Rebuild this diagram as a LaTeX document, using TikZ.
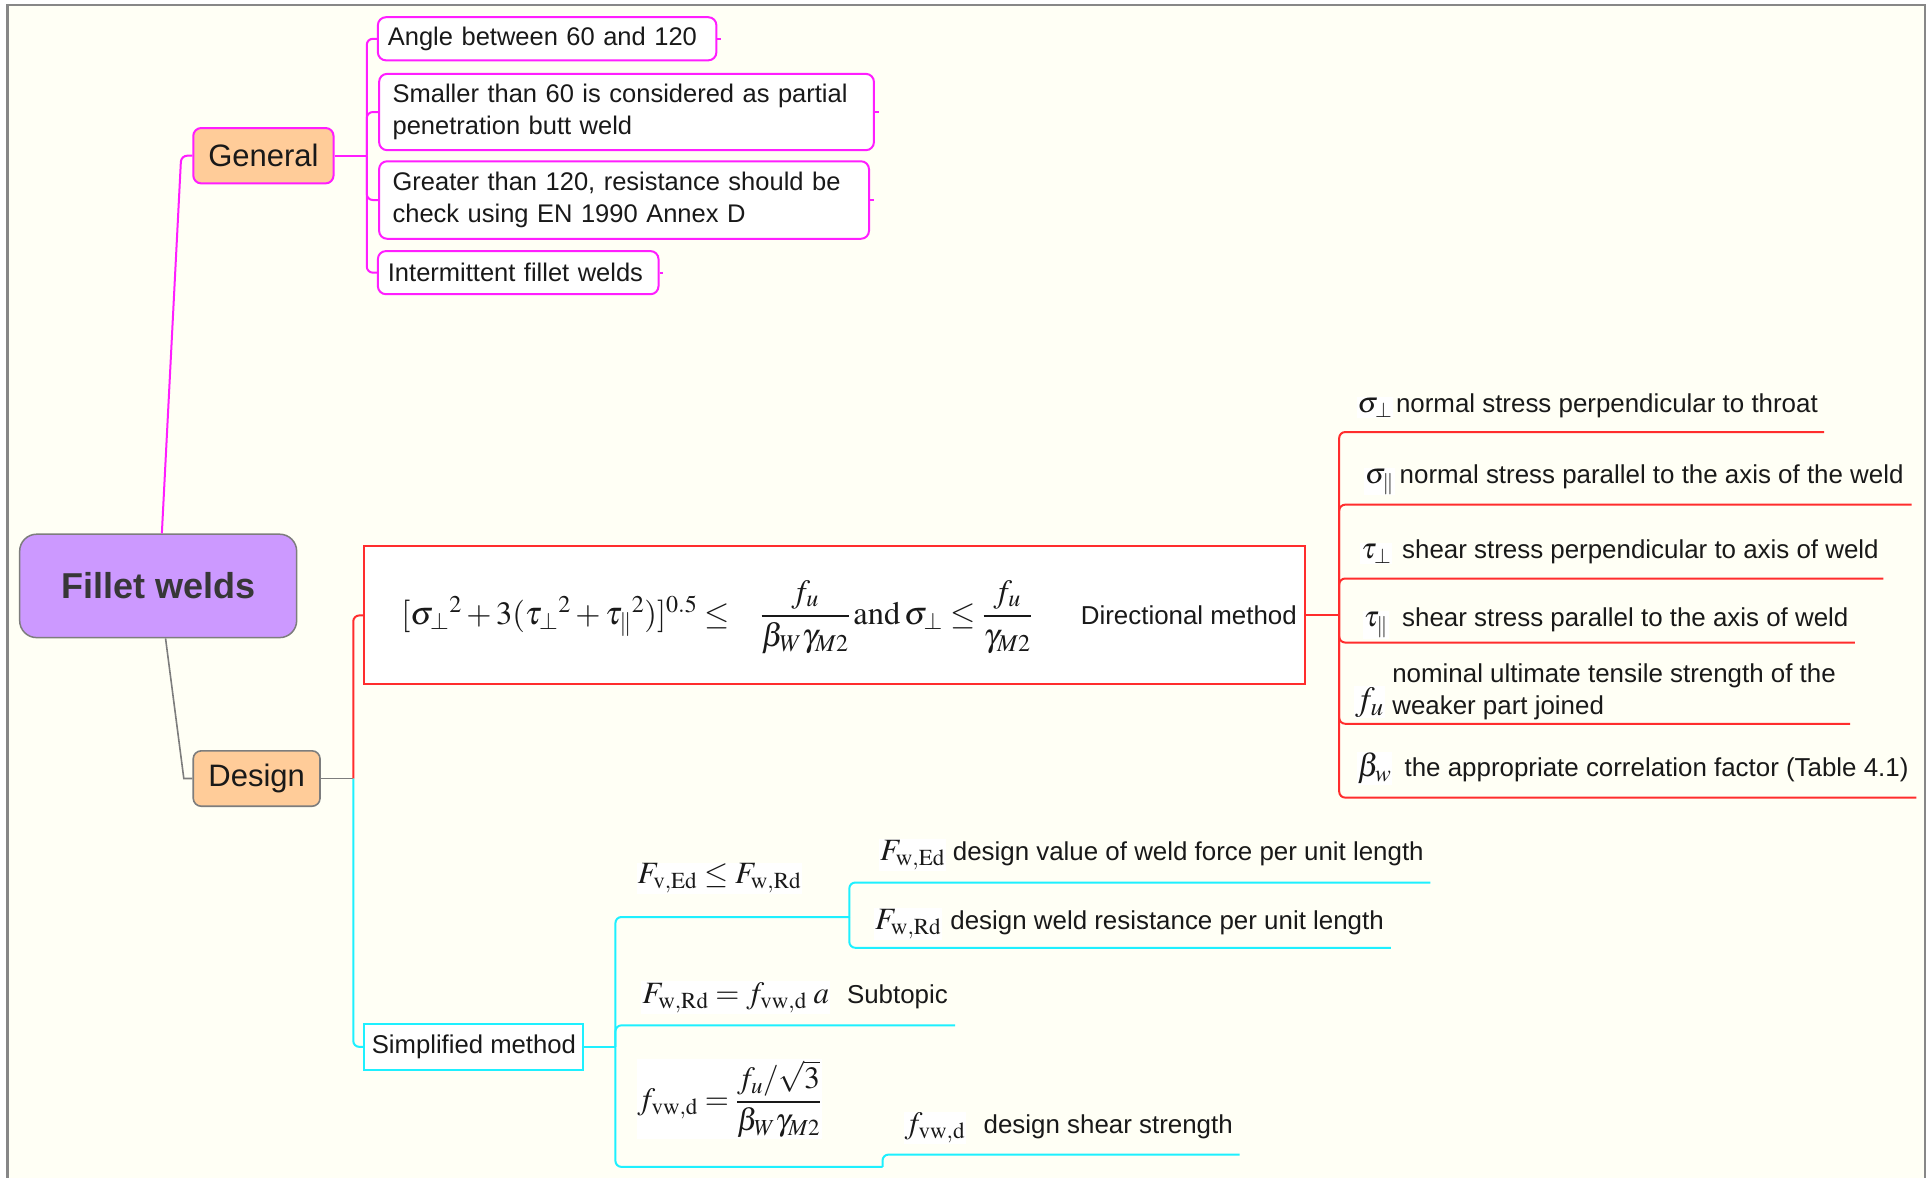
\documentclass[tikz,border=0pt]{standalone}
\usepackage{amsmath}
\usepackage{mathptmx}
\usepackage[no-math]{fontspec}
\setmainfont{Liberation Sans}
\usetikzlibrary{calc}
\definecolor{ivory}{RGB}{255,255,245}
\definecolor{magl}{RGB}{255,30,255}
\definecolor{redl}{RGB}{255,45,45}
\definecolor{cyanl}{RGB}{30,240,255}
\definecolor{grayl}{RGB}{125,125,125}
\definecolor{peach}{RGB}{255,204,153}
\definecolor{lav}{RGB}{204,153,255}
\definecolor{txt}{RGB}{25,25,25}
\definecolor{roottxt}{RGB}{55,55,55}
\definecolor{framec}{RGB}{135,135,135}
\tikzset{
  lbl/.style={font=\fontsize{25.9}{32}\selectfont, text=txt, inner sep=0pt},
  sym/.style={font=\fontsize{29}{34}\selectfont, text=txt, fill=white, inner sep=1pt},
  bigsym/.style={font=\fontsize{31}{36}\selectfont, text=txt, fill=white, inner sep=1pt},
  mline/.style={draw=magl, line width=2pt, rounded corners=6pt},
  rline/.style={draw=redl, line width=2pt, rounded corners=6pt},
  cline/.style={draw=cyanl, line width=2pt, rounded corners=6pt},
  gline/.style={draw=grayl, line width=1.6pt},
  magbox/.style={rectangle, rounded corners=8pt, draw=magl, line width=2pt, fill=white, align=left, font=\fontsize{25.5}{32}\selectfont, text=txt, inner ysep=0pt},
  topic/.style={rectangle, rounded corners=8pt, line width=2pt, fill=peach, font=\fontsize{31}{36}\selectfont, text=txt, inner sep=0pt, minimum height=55.4pt},
}
\begin{document}
\begin{tikzpicture}[x=1.2309pt, y=-1.2309pt]
\useasboundingbox (0,0) rectangle (1568,957);
\fill[white] (0,0) rectangle (1568,957);
\fill[ivory] (6,4) rectangle (1564,957);
\draw[framec, line width=2.5pt] (6,957) -- (6,4) -- (1564,4) -- (1564,957);

% root and main topics
\node[rectangle, rounded corners=17pt, draw=grayl, line width=1.5pt, fill=lav, minimum width=277pt, minimum height=103.4pt, inner sep=0pt, font=\fontsize{36}{40}\selectfont\bfseries, text=roottxt] (root) at (128.5,476) {Fillet welds};
\node[topic, draw=magl, minimum width=140.3pt] (gen) at (214,126.5) {General};
\node[topic, draw=grayl, line width=1.6pt, minimum width=126.8pt] (des) at (208.5,632.5) {Design};

% General children
\node[magbox, text width=318.5pt, inner xsep=10pt, minimum height=43.1pt] (c1) at (444.5,31.5) {Angle between 60 and 120};
\node[magbox, text width=467.8pt, inner xsep=13.5pt, minimum height=76.3pt] (c2) at (509,91) {Smaller than 60 is considered as partial\\penetration butt weld};
\node[magbox, text width=462.9pt, inner xsep=13.5pt, minimum height=77.5pt] (c3) at (507,162.5) {Greater than 120, resistance should be\\check using EN 1990 Annex D};
\node[magbox, text width=260.6pt, inner xsep=10pt, minimum height=43.1pt] (c4) at (421,221.5) {Intermittent fillet welds};

\coordinate (gj) at (298,126.5);
\draw[mline] ($(root.north)+(3,0)$) -- ($(gen.west)+(-9,0)$) -- (gen.west);
\draw[mline] (gen.east) -- (gj);
\foreach \c in {c1,c2,c3,c4} {
  \draw[mline] (gj) |- (\c.west);
  \draw[draw=magl, line width=2pt] (\c.east) -- ++(3,0);
}

% Design branch
\coordinate (dj) at (287,632.5);
\draw[gline] ($(root.south)+(6,0)$) -- ($(des.west)+(-7,0)$) -- (des.west);
\draw[gline] (des.east) -- (dj);

% Directional method
\node[rectangle, draw=redl, fill=white, line width=2pt, minimum width=940.4pt, minimum height=137.9pt] (dm) at (678,500) {};
\node[anchor=base west, inner sep=0pt, text=txt, font=\fontsize{32.5}{38}\selectfont] (fml) at (326,507)
  {$[{\sigma_\perp}^2 + 3({\tau_\perp}^2 + {\tau_\parallel}^2)]^{0.5} \leq \enskip\; \dfrac{f_u}{\beta_W\gamma_{M2}}\,\mathrm{and}\,\sigma_\perp \leq \dfrac{f_u}{\gamma_{M2}}$};
\node[lbl, anchor=west] (dmt) at (878,500) {Directional method};
\draw[rline] (dj) |- (dm.west);

\coordinate (dmj) at (1088,500);
\draw[rline] (dm.east) -- (dmj);
\coordinate (u1) at (1482,351);
\coordinate (u2) at (1553,410);
\coordinate (u3) at (1530,470);
\coordinate (u4) at (1507,522);
\coordinate (u5) at (1503,588);
\coordinate (u6) at (1557,648);
\foreach \u in {u1,u2,u3,u4,u5,u6} { \draw[rline] (dmj) |- (\u); }

\node[sym, anchor=base west] (s1) at (1102,335) {$\sigma_\perp$};
\node[lbl, anchor=base west] (t1) at (1134,335) {normal stress perpendicular to throat};
\node[sym, anchor=base west] (s2) at (1108,392.5) {$\sigma_\parallel$};
\node[lbl, anchor=base west] (t2) at (1137,392.5) {normal stress parallel to the axis of the weld};
\node[sym, anchor=base west] (s3) at (1105,453.5) {$\tau_\perp$};
\node[lbl, anchor=base west] (t3) at (1139,453.5) {shear stress perpendicular to axis of weld};
\node[sym, anchor=base west] (s4) at (1107,509) {$\tau_\parallel$};
\node[lbl, anchor=base west] (t4) at (1139,509) {shear stress parallel to the axis of weld};
\node[sym, anchor=base west, font=\fontsize{34}{38}\selectfont] (s5) at (1100,577) {$f_u$};
\node[lbl, anchor=west, align=left] (t5) at (1131,562) {nominal ultimate tensile strength of the\\weaker part joined};
\node[sym, anchor=base west, font=\fontsize{32}{36}\selectfont] (s6) at (1102,631) {$\beta_w$};
\node[lbl, anchor=base west] (t6) at (1141,631) {the appropriate correlation factor (Table 4.1)};

% Simplified method
\node[rectangle, draw=cyanl, fill=white, line width=2pt, minimum width=219.1pt, minimum height=45.5pt, inner sep=0pt, font=\fontsize{25.7}{32}\selectfont, text=txt] (sm) at (385,850.5) {Simplified method};
\draw[cline] (dj) |- (sm.west);
\coordinate (smj) at (500,850.5);
\draw[cline] (sm.east) -- (smj);

\coordinate (g1j) at (690,745);
\coordinate (u1a) at (1162,717);
\coordinate (u1b) at (1130,770);
\coordinate (u2c) at (776,833);
\coordinate (g3j) at (717,948);
\coordinate (u3a) at (1007,938);
\draw[cline] (smj) |- (g1j);
\draw[cline] (g1j) |- (u1a);
\draw[cline] (g1j) |- (u1b);
\draw[cline] (smj) |- (u2c);
\draw[cline] (smj) |- (g3j);
\draw[cline] (g3j) |- (u3a);

\node[bigsym, anchor=base west] (n1) at (517,718) {$F_{\mathrm{v,Ed}} \leq F_{\mathrm{w,Rd}}$};
\node[bigsym, anchor=base west] (n1a) at (714,699) {$F_{\mathrm{w,Ed}}$};
\node[lbl, anchor=base west] (t1a) at (774,699) {design value of weld force per unit length};
\node[bigsym, anchor=base west] (n1b) at (710,755) {$F_{\mathrm{w,Rd}}$};
\node[lbl, anchor=base west] (t1b) at (772,755) {design weld resistance per unit length};
\node[bigsym, anchor=base west] (n2) at (521,815) {$F_{\mathrm{w,Rd}} = f_{\mathrm{vw,d}}\;a$};
\node[lbl, anchor=base west] (t2c) at (688,815) {Subtopic};
\node[bigsym, anchor=west] (n3) at (517,893) {$f_{\mathrm{vw,d}} = \dfrac{f_u/\sqrt{3}}{\beta_W\gamma_{M2}}$};
\node[bigsym, anchor=base west] (n3a) at (734,921) {$f_{\mathrm{vw,d}}$};
\node[lbl, anchor=base west] (t3a) at (799,921) {design shear strength};
\end{tikzpicture}
\end{document}
